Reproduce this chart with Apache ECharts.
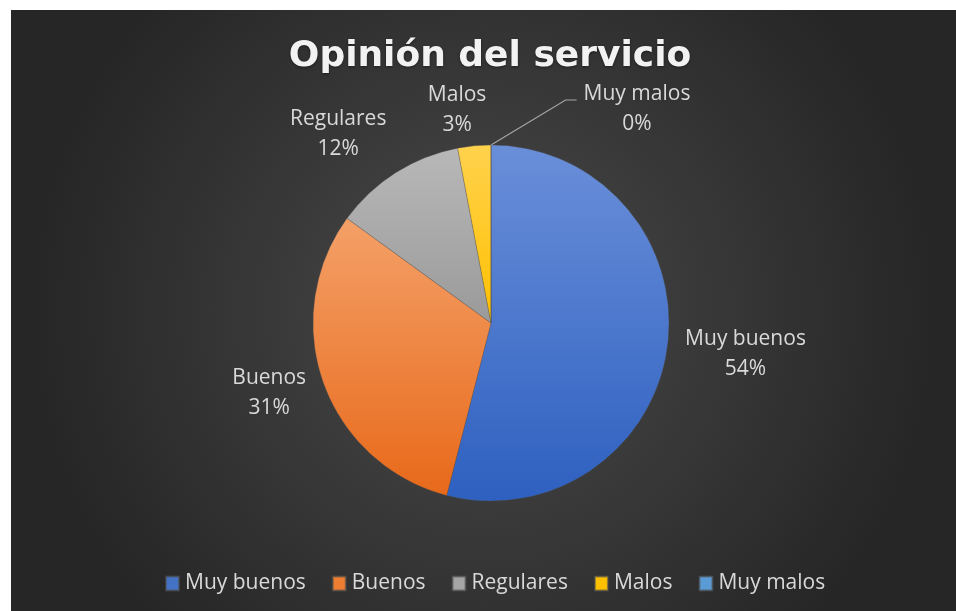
<!DOCTYPE html>
<html>
<head>
<meta charset="utf-8">
<script src="https://cdn.jsdelivr.net/npm/echarts@6/dist/echarts.min.js"></script>
<style>
  html, body { margin: 0; padding: 0; background: #ffffff; }
  #chart { position: absolute; left: 11px; top: 10px; width: 945px; height: 601px; }
</style>
</head>
<body>
<div id="chart"></div>
<script>
// Survey answers: share of each rating (percent)
const categories = ['Muy buenos', 'Buenos', 'Regulares', 'Malos', 'Muy malos'];
const shares = [54, 31, 12, 3, 0];

// Slice fills: light tone at the top, base tone at the bottom
const topColors = ['#6a8fd9', '#f4a068', '#b8b8b8', '#ffd24d', '#7fb2e0'];
const baseColors = ['#2e60c0', '#e8691a', '#9a9a9a', '#ffc000', '#5b9bd5'];
const legendColors = ['#4472c4', '#ed7d31', '#a5a5a5', '#ffc000', '#5b9bd5'];

// Nudges applied to each outside label after the default pie layout
const labelNudge = {
  'Muy buenos': [51, 7],
  'Buenos': [-28, 6],
  'Regulares': [-36, -29],
  'Malos': [-1, -24],
  'Muy malos': [161, -24]
};
// Only this label keeps a leader line
const leaderLabel = 'Muy malos';

function grad(top, base) {
  return new echarts.graphic.LinearGradient(0, 0, 0, 1, [
    { offset: 0, color: top },
    { offset: 1, color: base }
  ]);
}

const pieData = categories.map((name, i) => ({
  name: name,
  value: shares[i],
  itemStyle: { color: grad(topColors[i], baseColors[i]) },
  labelLine: { show: name === leaderLabel }
}));

const chart = echarts.init(document.getElementById('chart'), null, { renderer: 'canvas' });

chart.setOption({
  animation: false,
  backgroundColor: {
    type: 'radial', x: 0.5, y: 0.5, r: 0.75,
    colorStops: [
      { offset: 0, color: '#4a4a4a' },
      { offset: 1, color: '#262626' }
    ]
  },
  color: legendColors,
  title: {
    text: 'Opinión del servicio',
    left: 474,
    top: 24,
    textAlign: 'center',
    textStyle: {
      fontFamily: 'DejaVu Sans',
      fontWeight: 'bold',
      fontSize: 36,
      color: '#f2f2f2',
      textShadowColor: 'rgba(0,0,0,0.45)',
      textShadowBlur: 3,
      textShadowOffsetY: 1
    }
  },
  legend: {
    data: categories.map((name, i) => ({ name: name, itemStyle: { color: legendColors[i] } })),
    left: 149,
    bottom: 12,
    icon: 'rect',
    itemWidth: 13,
    itemHeight: 14,
    itemGap: 26,
    textStyle: {
      fontFamily: 'Open Sans',
      fontSize: 21,
      color: '#d9d9d9',
      padding: [0, 0, 0, 1]
    }
  },
  series: [{
    type: 'pie',
    center: [480, 313],
    radius: 178,
    startAngle: 90,
    clockwise: true,
    avoidLabelOverlap: false,
    data: pieData,
    itemStyle: { borderWidth: 0.5, borderColor: 'rgba(80,80,80,0.6)' },
    label: {
      show: true,
      position: 'outside',
      formatter: '{b}\n{d}%',
      fontFamily: 'Open Sans',
      fontSize: 21,
      lineHeight: 30,
      color: '#d9d9d9'
    },
    labelLine: {
      length: 12,
      length2: 10,
      lineStyle: { color: '#a6a6a6', width: 1.2 }
    },
    labelLayout: function (params) {
      const name = params.text.split('\n')[0];
      const n = labelNudge[name] || [0, 0];
      const r = params.labelRect;
      const anchorX = params.align === 'right' ? r.x + r.width
        : params.align === 'left' ? r.x : r.x + r.width / 2;
      const out = { align: 'center', dx: n[0], dy: n[1] };
      if (name === leaderLabel && params.labelLinePoints) {
        // Leader: from the slice edge to just left of the first text line
        const cx = anchorX + n[0];
        const cy = r.y + r.height / 2 + n[1];
        const endX = cx - r.width / 2 - 7;
        const endY = cy - 9;
        out.labelLinePoints = [
          params.labelLinePoints[0].slice(),
          [endX - 11, endY],
          [endX, endY]
        ];
      }
      return out;
    },
    emphasis: { disabled: true }
  }]
});
</script>
</body>
</html>
